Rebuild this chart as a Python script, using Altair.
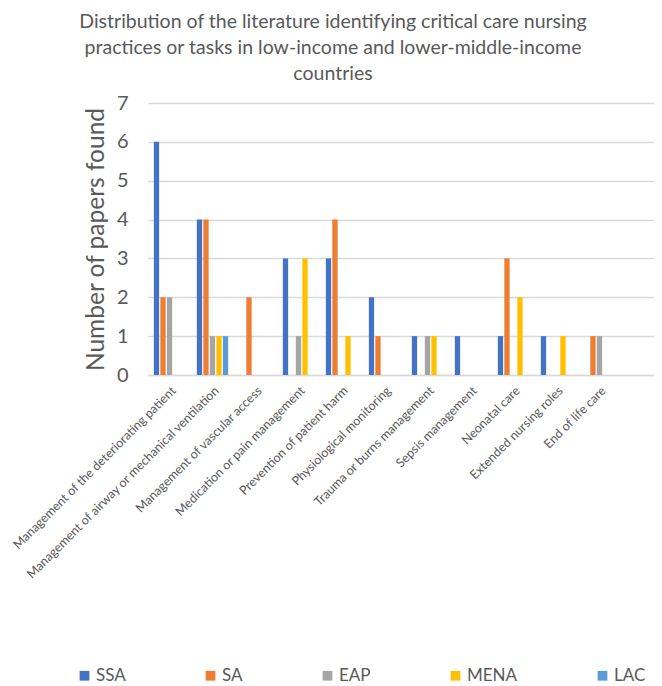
import altair as alt
import pandas as pd

categories = [
    "Management of the deteriorating patient",
    "Management of airway or mechanical ventilation",
    "Management of vascular access",
    "Medication or pain management",
    "Prevention of patient harm",
    "Physiological monitoring",
    "Trauma or burns management",
    "Sepsis management",
    "Neonatal care",
    "Extended nursing roles",
    "End of life care",
]
regions = ["SSA", "SA", "EAP", "MENA", "LAC"]
colors = ["#4472C4", "#ED7D31", "#A5A5A5", "#FFC000", "#5B9BD5"]

ssa = [6, 4, 0, 3, 3, 2, 1, 1, 1, 1, 0]
sa = [2, 4, 2, 0, 4, 1, 0, 0, 3, 0, 1]
eap = [2, 1, 0, 1, 0, 0, 1, 0, 0, 0, 1]
mena = [0, 1, 0, 3, 1, 0, 1, 0, 2, 1, 0]
lac = [0, 1, 0, 0, 0, 0, 0, 0, 0, 0, 0]

series = {"SSA": ssa, "SA": sa, "EAP": eap, "MENA": mena, "LAC": lac}
rows = []
for r in regions:
    for c, v in zip(categories, series[r]):
        rows.append({"category": c, "region": r, "value": v})
df = pd.DataFrame(rows)

title_lines = [
    "Distribution of the literature identifying critical care nursing",
    "practices or tasks in low-income and lower-middle-income",
    "countries",
]

FONT = "Lato"
GREY = "#595959"

chart = alt.Chart(df).mark_bar().encode(
    x=alt.X(
        "category:N",
        sort=categories,
        scale=alt.Scale(paddingInner=0, paddingOuter=0.384, align=0),
        axis=alt.Axis(
            title=None,
            labelAngle=-45,
            labelFontSize=12.5,
            labelColor=GREY,
            labelFont=FONT,
            labelPadding=9,
            ticks=False,
            domainColor="#d9d9d9",
            domainWidth=1.5,
            labelLimit=400,
        ),
    ),
    xOffset=alt.XOffset(
        "region:N",
        sort=regions,
        scale=alt.Scale(paddingInner=0.185, paddingOuter=0.9),
    ),
    y=alt.Y(
        "value:Q",
        scale=alt.Scale(domain=[0, 7]),
        axis=alt.Axis(
            title="Number of papers found",
            titleFontSize=24.5,
            titleFontWeight="normal",
            titleColor=GREY,
            titleFont=FONT,
            titlePadding=8,
            values=[0, 1, 2, 3, 4, 5, 6, 7],
            labelFontSize=20,
            labelColor=GREY,
            labelFont=FONT,
            labelPadding=20,
            ticks=False,
            domain=False,
            gridColor="#d9d9d9",
            gridWidth=1.5,
        ),
    ),
    color=alt.Color(
        "region:N",
        sort=regions,
        scale=alt.Scale(domain=regions, range=colors),
        legend=alt.Legend(
            title=None,
            orient="none",
            direction="horizontal",
            legendX=-72,
            legendY=564,
            symbolType="square",
            symbolSize=95,
            symbolStrokeWidth=0,
            labelFontSize=17,
            labelFont=FONT,
            labelColor=GREY,
            labelOffset=3,
            columnPadding=76,
        ),
    ),
).properties(
    width=506,
    height=272,
    title=alt.TitleParams(
        text=title_lines,
        fontSize=19.5,
        font=FONT,
        fontWeight="normal",
        color=GREY,
        lineHeight=26,
        anchor="middle",
        dx=-68,
        offset=9,
    ),
    autosize=alt.AutoSizeParams(type="none"),
    padding={"left": 140, "top": 95, "right": 0, "bottom": 309},
    background="white",
).configure_view(stroke=None)

chart.save("out.html", embed_options={"renderer": "svg", "actions": False})
